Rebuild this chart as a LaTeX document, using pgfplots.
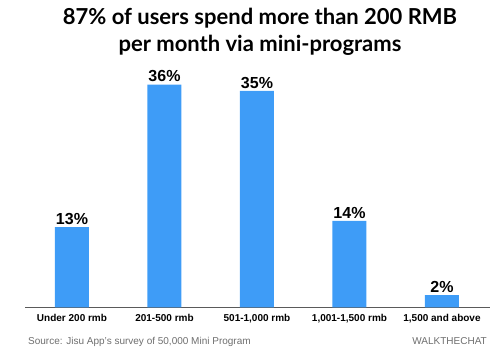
\documentclass[border=0pt]{standalone}
\usepackage{pgfplots}
\pgfplotsset{compat=1.18}
\usepackage{fontspec}
\setmainfont{Liberation Sans}
\newfontfamily\titlefont{Lato}
\definecolor{barblue}{RGB}{62,156,247}
\definecolor{srcgray}{RGB}{110,110,110}
\definecolor{axgray}{RGB}{90,90,90}
\begin{document}
\begin{tikzpicture}[x=1pt,y=1pt]
\useasboundingbox (0,0) rectangle (500,352);
\begin{axis}[
  at={(25pt,44.5pt)}, anchor=south west,
  scale only axis,
  width=465pt, height=247.6pt,
  xmin=-0.508, xmax=4.519,
  ymin=0, ymax=40,
  axis x line*=bottom,
  axis y line=none,
  x axis line style={axgray, line width=0.9pt, -},
  xtick={0,1,2,3,4},
  xticklabels={Under 200 rmb,201-500 rmb,501-1{,}000 rmb,1{,}001-1{,}500 rmb,1{,}500 and above},
  major tick length=0pt,
  xticklabel style={font=\fontsize{10}{12}\selectfont\bfseries, yshift=-3pt},
  /pgf/number format/assume math mode=true,
  ybar, bar width=34pt,
  nodes near coords={\pgfmathprintnumber{\pgfplotspointmeta}\%},
  nodes near coords style={font=\fontsize{16}{18}\selectfont\bfseries, yshift=-1pt},
  clip=false,
]
\addplot[fill=barblue, draw=none] coordinates {(0,13) (1,36) (2,35) (3,14) (4,2)};
\end{axis}
\node[font=\titlefont\bfseries\fontsize{22}{27}\selectfont, align=center] at (260,320) {87\% of users spend more than 200 RMB\\per month via mini-programs};
\node[anchor=west, text=srcgray, font=\fontsize{10}{12}\selectfont, inner sep=0pt] at (28,10.5) {Source: Jisu App's survey of 50,000 Mini Program};
\node[anchor=east, text=srcgray, font=\fontsize{10}{12}\selectfont, inner sep=0pt] at (487,10.5) {WALKTHECHAT};
\end{tikzpicture}
\end{document}
